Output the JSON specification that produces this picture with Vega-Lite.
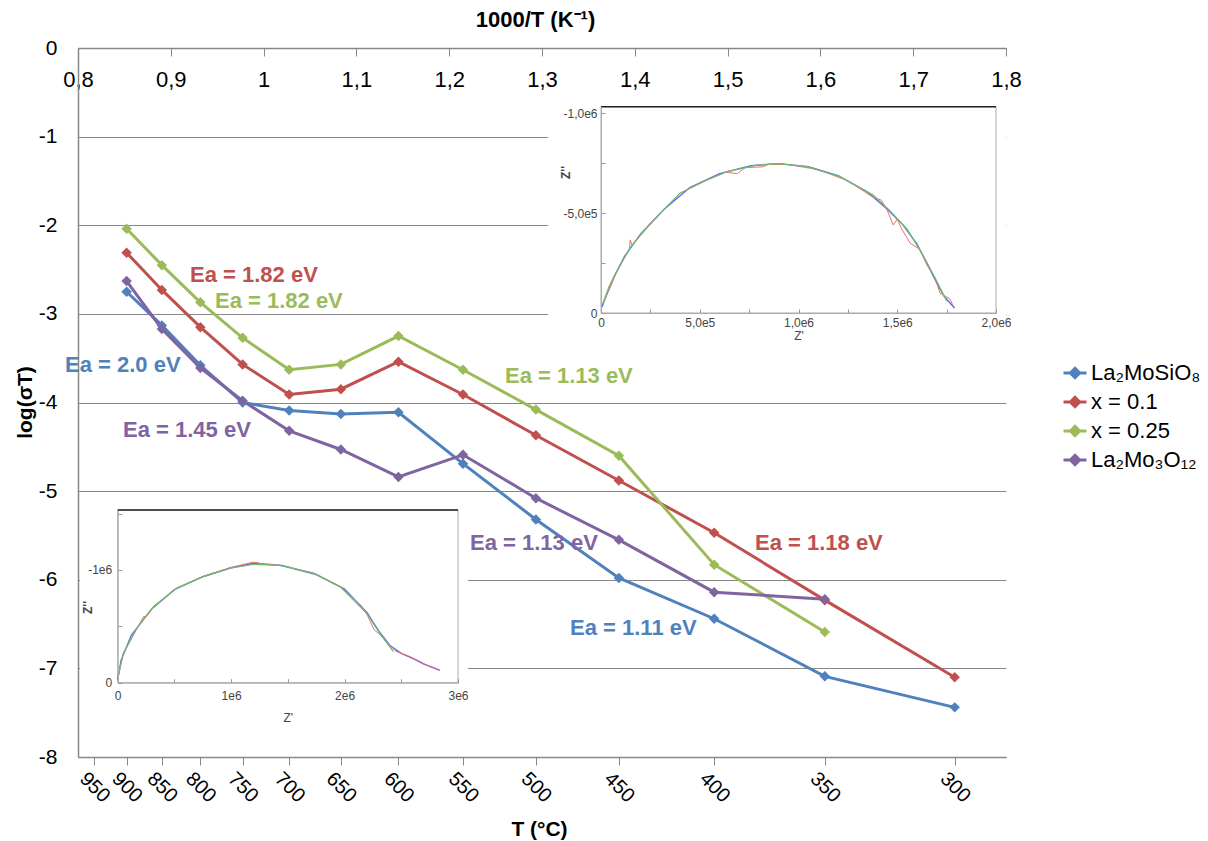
{
  "$schema": "https://vega.github.io/schema/vega-lite/v6.json",
  "width": 928,
  "height": 709,
  "autosize": {"type": "none"},
  "padding": {"left": 78, "top": 48, "right": 202, "bottom": 84},
  "background": "white",
  "config": {
    "font": "Liberation Sans",
    "view": {"stroke": null},
    "axis": {"labelOverlap": false, "labelFlush": false, "labelBound": false}
  },
  "datasets": {
    "main": [
      {"series": "La₂MoSiO₈", "T": 900, "invT": 0.852406, "logST": -2.75},
      {"series": "La₂MoSiO₈", "T": 850, "invT": 0.890353, "logST": -3.13},
      {"series": "La₂MoSiO₈", "T": 800, "invT": 0.931836, "logST": -3.58},
      {"series": "La₂MoSiO₈", "T": 750, "invT": 0.977374, "logST": -4.0},
      {"series": "La₂MoSiO₈", "T": 700, "invT": 1.027591, "logST": -4.09},
      {"series": "La₂MoSiO₈", "T": 650, "invT": 1.083248, "logST": -4.13},
      {"series": "La₂MoSiO₈", "T": 600, "invT": 1.145279, "logST": -4.11},
      {"series": "La₂MoSiO₈", "T": 550, "invT": 1.214846, "logST": -4.69},
      {"series": "La₂MoSiO₈", "T": 500, "invT": 1.29341, "logST": -5.32},
      {"series": "La₂MoSiO₈", "T": 450, "invT": 1.382839, "logST": -5.98},
      {"series": "La₂MoSiO₈", "T": 400, "invT": 1.485553, "logST": -6.44},
      {"series": "La₂MoSiO₈", "T": 350, "invT": 1.60475, "logST": -7.09},
      {"series": "La₂MoSiO₈", "T": 300, "invT": 1.744744, "logST": -7.44},
      {"series": "x = 0.1", "T": 900, "invT": 0.852406, "logST": -2.31},
      {"series": "x = 0.1", "T": 850, "invT": 0.890353, "logST": -2.73},
      {"series": "x = 0.1", "T": 800, "invT": 0.931836, "logST": -3.15},
      {"series": "x = 0.1", "T": 750, "invT": 0.977374, "logST": -3.57},
      {"series": "x = 0.1", "T": 700, "invT": 1.027591, "logST": -3.91},
      {"series": "x = 0.1", "T": 650, "invT": 1.083248, "logST": -3.85},
      {"series": "x = 0.1", "T": 600, "invT": 1.145279, "logST": -3.54},
      {"series": "x = 0.1", "T": 550, "invT": 1.214846, "logST": -3.91},
      {"series": "x = 0.1", "T": 500, "invT": 1.29341, "logST": -4.37},
      {"series": "x = 0.1", "T": 450, "invT": 1.382839, "logST": -4.88},
      {"series": "x = 0.1", "T": 400, "invT": 1.485553, "logST": -5.47},
      {"series": "x = 0.1", "T": 350, "invT": 1.60475, "logST": -6.23},
      {"series": "x = 0.1", "T": 300, "invT": 1.744744, "logST": -7.1},
      {"series": "x = 0.25", "T": 900, "invT": 0.852406, "logST": -2.04},
      {"series": "x = 0.25", "T": 850, "invT": 0.890353, "logST": -2.45},
      {"series": "x = 0.25", "T": 800, "invT": 0.931836, "logST": -2.87},
      {"series": "x = 0.25", "T": 750, "invT": 0.977374, "logST": -3.27},
      {"series": "x = 0.25", "T": 700, "invT": 1.027591, "logST": -3.63},
      {"series": "x = 0.25", "T": 650, "invT": 1.083248, "logST": -3.57},
      {"series": "x = 0.25", "T": 600, "invT": 1.145279, "logST": -3.25},
      {"series": "x = 0.25", "T": 550, "invT": 1.214846, "logST": -3.63},
      {"series": "x = 0.25", "T": 500, "invT": 1.29341, "logST": -4.08},
      {"series": "x = 0.25", "T": 450, "invT": 1.382839, "logST": -4.6},
      {"series": "x = 0.25", "T": 400, "invT": 1.485553, "logST": -5.83},
      {"series": "x = 0.25", "T": 350, "invT": 1.60475, "logST": -6.59},
      {"series": "La₂Mo₃O₁₂", "T": 900, "invT": 0.852406, "logST": -2.63},
      {"series": "La₂Mo₃O₁₂", "T": 850, "invT": 0.890353, "logST": -3.17},
      {"series": "La₂Mo₃O₁₂", "T": 800, "invT": 0.931836, "logST": -3.61},
      {"series": "La₂Mo₃O₁₂", "T": 750, "invT": 0.977374, "logST": -3.98},
      {"series": "La₂Mo₃O₁₂", "T": 700, "invT": 1.027591, "logST": -4.32},
      {"series": "La₂Mo₃O₁₂", "T": 650, "invT": 1.083248, "logST": -4.53},
      {"series": "La₂Mo₃O₁₂", "T": 600, "invT": 1.145279, "logST": -4.84},
      {"series": "La₂Mo₃O₁₂", "T": 550, "invT": 1.214846, "logST": -4.59},
      {"series": "La₂Mo₃O₁₂", "T": 500, "invT": 1.29341, "logST": -5.08},
      {"series": "La₂Mo₃O₁₂", "T": 450, "invT": 1.382839, "logST": -5.55},
      {"series": "La₂Mo₃O₁₂", "T": 400, "invT": 1.485553, "logST": -6.14},
      {"series": "La₂Mo₃O₁₂", "T": 350, "invT": 1.60475, "logST": -6.22}
    ],
    "notes": [
      {"label": "Ea = 1.82 eV", "series": "x = 0.1", "nx": 0.9207, "ny": -2.641},
      {"label": "Ea = 1.82 eV", "series": "x = 0.25", "nx": 0.9476, "ny": -2.935},
      {"label": "Ea = 2.0 eV", "series": "La₂MoSiO₈", "nx": 0.786, "ny": -3.657},
      {"label": "Ea = 1.45 eV", "series": "La₂Mo₃O₁₂", "nx": 0.8485, "ny": -4.391},
      {"label": "Ea = 1.13 eV", "series": "x = 0.25", "nx": 1.2601, "ny": -3.781},
      {"label": "Ea = 1.13 eV", "series": "La₂Mo₃O₁₂", "nx": 1.2224, "ny": -5.666},
      {"label": "Ea = 1.18 eV", "series": "x = 0.1", "nx": 1.5295, "ny": -5.666},
      {"label": "Ea = 1.11 eV", "series": "La₂MoSiO₈", "nx": 1.3302, "ny": -6.625}
    ],
    "inset1": [
      {"s": "pts", "zr": 5000, "zi": -30000},
      {"s": "pts", "zr": 20000, "zi": -70000},
      {"s": "pts", "zr": 60000, "zi": -170000},
      {"s": "pts", "zr": 120000, "zi": -285000},
      {"s": "pts", "zr": 200000, "zi": -395000},
      {"s": "pts", "zr": 320000, "zi": -520000},
      {"s": "pts", "zr": 450000, "zi": -628000},
      {"s": "pts", "zr": 600000, "zi": -698000},
      {"s": "pts", "zr": 760000, "zi": -738000},
      {"s": "pts", "zr": 900000, "zi": -748000},
      {"s": "pts", "zr": 1050000, "zi": -732000},
      {"s": "pts", "zr": 1200000, "zi": -688000},
      {"s": "pts", "zr": 1350000, "zi": -605000},
      {"s": "pts", "zr": 1450000, "zi": -520000},
      {"s": "pts", "zr": 1530000, "zi": -440000},
      {"s": "pts", "zr": 1600000, "zi": -345000},
      {"s": "pts", "zr": 1650000, "zi": -250000},
      {"s": "pts", "zr": 1700000, "zi": -150000},
      {"s": "pts", "zr": 1740000, "zi": -80000},
      {"s": "pts", "zr": 1790000, "zi": -25000},
      {"s": "data", "zr": 10000, "zi": -46000},
      {"s": "data", "zr": 80000, "zi": -205000},
      {"s": "data", "zr": 145000, "zi": -325000},
      {"s": "data", "zr": 148000, "zi": -366000},
      {"s": "data", "zr": 158000, "zi": -340000},
      {"s": "data", "zr": 250000, "zi": -445000},
      {"s": "data", "zr": 400000, "zi": -600000},
      {"s": "data", "zr": 530000, "zi": -662000},
      {"s": "data", "zr": 630000, "zi": -705000},
      {"s": "data", "zr": 690000, "zi": -698000},
      {"s": "data", "zr": 730000, "zi": -728000},
      {"s": "data", "zr": 820000, "zi": -732000},
      {"s": "data", "zr": 850000, "zi": -745000},
      {"s": "data", "zr": 950000, "zi": -743000},
      {"s": "data", "zr": 1100000, "zi": -718000},
      {"s": "data", "zr": 1250000, "zi": -662000},
      {"s": "data", "zr": 1380000, "zi": -578000},
      {"s": "data", "zr": 1420000, "zi": -565000},
      {"s": "data", "zr": 1450000, "zi": -512000},
      {"s": "data", "zr": 1480000, "zi": -440000},
      {"s": "data", "zr": 1500000, "zi": -470000},
      {"s": "data", "zr": 1520000, "zi": -425000},
      {"s": "data", "zr": 1565000, "zi": -350000},
      {"s": "data", "zr": 1615000, "zi": -318000},
      {"s": "data", "zr": 1650000, "zi": -240000},
      {"s": "data", "zr": 1690000, "zi": -180000},
      {"s": "data", "zr": 1716000, "zi": -100000},
      {"s": "data", "zr": 1730000, "zi": -92000},
      {"s": "data", "zr": 1767000, "zi": -70000},
      {"s": "data", "zr": 1785000, "zi": -32000},
      {"s": "fit", "zr": 10000, "zi": -50000},
      {"s": "fit", "zr": 40000, "zi": -130000},
      {"s": "fit", "zr": 80000, "zi": -210000},
      {"s": "fit", "zr": 150000, "zi": -330000},
      {"s": "fit", "zr": 250000, "zi": -450000},
      {"s": "fit", "zr": 400000, "zi": -600000},
      {"s": "fit", "zr": 530000, "zi": -665000},
      {"s": "fit", "zr": 640000, "zi": -708000},
      {"s": "fit", "zr": 790000, "zi": -740000},
      {"s": "fit", "zr": 900000, "zi": -748000},
      {"s": "fit", "zr": 1040000, "zi": -733000},
      {"s": "fit", "zr": 1210000, "zi": -683000},
      {"s": "fit", "zr": 1380000, "zi": -590000},
      {"s": "fit", "zr": 1460000, "zi": -515000},
      {"s": "fit", "zr": 1550000, "zi": -420000},
      {"s": "fit", "zr": 1630000, "zi": -290000},
      {"s": "fit", "zr": 1700000, "zi": -160000},
      {"s": "fit", "zr": 1750000, "zi": -60000}
    ],
    "inset2": [
      {"s": "pts", "zr": 0, "zi": -30000},
      {"s": "pts", "zr": 30000, "zi": -200000},
      {"s": "pts", "zr": 120000, "zi": -420000},
      {"s": "pts", "zr": 300000, "zi": -655000},
      {"s": "pts", "zr": 500000, "zi": -825000},
      {"s": "pts", "zr": 750000, "zi": -940000},
      {"s": "pts", "zr": 1000000, "zi": -1020000},
      {"s": "pts", "zr": 1200000, "zi": -1060000},
      {"s": "pts", "zr": 1450000, "zi": -1040000},
      {"s": "pts", "zr": 1750000, "zi": -960000},
      {"s": "pts", "zr": 2000000, "zi": -830000},
      {"s": "pts", "zr": 2200000, "zi": -620000},
      {"s": "pts", "zr": 2300000, "zi": -460000},
      {"s": "pts", "zr": 2400000, "zi": -330000},
      {"s": "pts", "zr": 2500000, "zi": -260000},
      {"s": "pts", "zr": 2600000, "zi": -215000},
      {"s": "pts", "zr": 2700000, "zi": -165000},
      {"s": "pts", "zr": 2840000, "zi": -110000},
      {"s": "data", "zr": 3000, "zi": -45000},
      {"s": "data", "zr": 49000, "zi": -255000},
      {"s": "data", "zr": 170000, "zi": -480000},
      {"s": "data", "zr": 230000, "zi": -590000},
      {"s": "data", "zr": 250000, "zi": -580000},
      {"s": "data", "zr": 314000, "zi": -670000},
      {"s": "data", "zr": 520000, "zi": -840000},
      {"s": "data", "zr": 755000, "zi": -945000},
      {"s": "data", "zr": 990000, "zi": -1020000},
      {"s": "data", "zr": 1196000, "zi": -1070000},
      {"s": "data", "zr": 1300000, "zi": -1050000},
      {"s": "data", "zr": 1431000, "zi": -1040000},
      {"s": "data", "zr": 1725000, "zi": -975000},
      {"s": "data", "zr": 1960000, "zi": -855000},
      {"s": "data", "zr": 2150000, "zi": -680000},
      {"s": "data", "zr": 2200000, "zi": -600000},
      {"s": "data", "zr": 2260000, "zi": -470000},
      {"s": "data", "zr": 2320000, "zi": -420000},
      {"s": "data", "zr": 2380000, "zi": -350000},
      {"s": "data", "zr": 2450000, "zi": -280000},
      {"s": "data", "zr": 2578000, "zi": -231000},
      {"s": "data", "zr": 2650000, "zi": -195000},
      {"s": "data", "zr": 2725000, "zi": -157000},
      {"s": "data", "zr": 2840000, "zi": -113000},
      {"s": "fit", "zr": 3000, "zi": -53000},
      {"s": "fit", "zr": 49000, "zi": -261000},
      {"s": "fit", "zr": 168000, "zi": -483000},
      {"s": "fit", "zr": 314000, "zi": -674000},
      {"s": "fit", "zr": 520000, "zi": -838000},
      {"s": "fit", "zr": 755000, "zi": -941000},
      {"s": "fit", "zr": 990000, "zi": -1015000},
      {"s": "fit", "zr": 1196000, "zi": -1050000},
      {"s": "fit", "zr": 1431000, "zi": -1040000},
      {"s": "fit", "zr": 1725000, "zi": -970000},
      {"s": "fit", "zr": 1960000, "zi": -852000},
      {"s": "fit", "zr": 2195000, "zi": -616000},
      {"s": "fit", "zr": 2310000, "zi": -438000},
      {"s": "fit", "zr": 2430000, "zi": -275000}
    ]
  },
  "layer": [
    {
      "data": {"name": "main"},
      "mark": {"type": "point", "opacity": 0},
      "encoding": {
        "x": {
          "field": "invT", "type": "quantitative",
          "scale": {"domain": [0.8, 1.8], "nice": false, "zero": false},
          "axis": {
            "orient": "bottom", "offset": -709,
            "values": [0.8, 0.9, 1, 1.1, 1.2, 1.3, 1.4, 1.5, 1.6, 1.7, 1.8],
            "labelExpr": "datum.value == 1 ? '1' : replace(format(datum.value, '.1f'), '.', ',')",
            "labelFontSize": 22, "labelColor": "#000", "labelPadding": 13,
            "tickSize": 8, "tickColor": "#888", "domainColor": "#888", "domainWidth": 1.5,
            "grid": false,
            "title": "1000/T (K⁻¹)", "titleFontSize": 22, "titleFontWeight": "bold", "titleColor": "#000",
            "titleX": 457, "titleY": -22, "titleBaseline": "alphabetic", "titleAlign": "center", "titleAngle": 0
          }
        }
      }
    },
    {
      "data": {"name": "main"},
      "layer": [
        {
          "mark": {"type": "line", "strokeWidth": 3},
          "encoding": {
            "x": {
              "field": "invT", "type": "quantitative",
              "scale": {"domain": [0.8, 1.8], "nice": false, "zero": false},
              "axis": {
                "orient": "bottom",
                "values": [0.817561, 0.852406, 0.890353, 0.931836, 0.977374, 1.027591, 1.083248, 1.145279, 1.214846, 1.29341, 1.382839, 1.485553, 1.60475, 1.744744],
                "labelExpr": "toString(round((1000 / datum.value - 273.15) / 50) * 50)",
                "labelAngle": 45, "labelAlign": "center", "labelBaseline": "middle",
                "labelFontSize": 20, "labelColor": "#000", "labelPadding": 22,
                "tickSize": 8, "tickColor": "#888", "domainColor": "#888", "domainWidth": 1.5,
                "grid": false,
                "title": "T (°C)", "titleFontSize": 21, "titleFontWeight": "bold", "titleColor": "#000",
                "titleX": 461, "titleY": 78, "titleAlign": "center", "titleBaseline": "alphabetic"
              }
            },
            "y": {
              "field": "logST", "type": "quantitative",
              "scale": {"domain": [-8, 0], "nice": false, "zero": false},
              "axis": {
                "orient": "left",
                "values": [-8, -7, -6, -5, -4, -3, -2, -1, 0],
                "labelExpr": "toString(datum.value)",
                "labelFontSize": 21, "labelColor": "#000", "labelPadding": 21,
                "ticks": false, "domainColor": "#888", "domainWidth": 1.5,
                "grid": true, "gridColor": "#888", "gridWidth": 1.2,
                "title": "log(σT)", "titleFontSize": 21, "titleFontWeight": "bold", "titleColor": "#000",
                "titleX": -47, "titleY": 354, "titleAngle": -90, "titleAlign": "center", "titleBaseline": "alphabetic"
              }
            },
            "color": {
              "field": "series", "type": "nominal",
              "scale": {
                "domain": ["La₂MoSiO₈", "x = 0.1", "x = 0.25", "La₂Mo₃O₁₂"],
                "range": ["#4F81BD", "#C0504D", "#9BBB59", "#8064A2"]
              },
              "legend": {
                "orient": "none", "legendX": 984, "legendY": 312,
                "title": null, "padding": 0,
                "labelFontSize": 22, "labelColor": "#000", "labelFont": "Liberation Sans",
                "symbolType": "M-1,0H1M0,-0.4L0.4,0L0,0.4L-0.4,0Z",
                "symbolSize": 529, "symbolStrokeWidth": 3, "symbolOpacity": 1,
                "rowPadding": 5, "labelOffset": 3,
                "encode": {
                  "symbols": {
                    "update": {
                      "fill": {"scale": "color", "field": "value"},
                      "stroke": {"scale": "color", "field": "value"}
                    }
                  }
                }
              }
            }
          }
        },
        {
          "mark": {"type": "point", "shape": "diamond", "filled": true, "size": 110, "opacity": 1},
          "encoding": {
            "x": {"field": "invT", "type": "quantitative"},
            "y": {"field": "logST", "type": "quantitative"},
            "color": {"field": "series", "type": "nominal"}
          }
        },
        {
          "data": {"name": "notes"},
          "mark": {"type": "text", "fontSize": 22, "fontWeight": "bold", "align": "left", "baseline": "alphabetic"},
          "encoding": {
            "x": {"field": "nx", "type": "quantitative"},
            "y": {"field": "ny", "type": "quantitative"},
            "text": {"field": "label"},
            "color": {"field": "series", "type": "nominal"}
          }
        }
      ]
    },
    {
      "data": {"name": "inset1"},
      "layer": [
        {
          "data": {"values": [{}]},
          "mark": {"type": "rect", "fill": "white", "strokeWidth": 0},
          "encoding": {
            "x": {
              "datum": -268000, "type": "quantitative",
              "scale": {"domain": [0, 2000000], "range": [523, 918], "nice": false, "zero": false},
              "axis": {
                "orient": "bottom", "offset": -444, "zindex": 1,
                "values": [0, 250000, 500000, 750000, 1000000, 1250000, 1500000, 1750000, 2000000],
                "labelExpr": "datum.value == 0 ? '0' : datum.value == 500000 ? '5,0e5' : datum.value == 1000000 ? '1,0e6' : datum.value == 1500000 ? '1,5e6' : datum.value == 2000000 ? '2,0e6' : ''",
                "labelFontSize": 12, "labelColor": "#444", "labelPadding": 8,
                "tickSize": -4, "tickColor": "#999", "domainColor": "#aaa", "domainWidth": 1,
                "grid": false,
                "title": "Z'", "titleFontSize": 12, "titleFontWeight": "normal", "titleColor": "#444",
                "titleY": 22, "titleBaseline": "middle"
              }
            },
            "x2": {"datum": 2051000},
            "y": {
              "datum": -1077000, "type": "quantitative",
              "scale": {"domain": [-1033000, 0], "range": [58.7, 265], "nice": false, "zero": false},
              "axis": {
                "orient": "left", "offset": -523, "zindex": 1,
                "values": [0, -250000, -500000, -750000, -1000000],
                "labelExpr": "datum.value == 0 ? '0' : datum.value == -500000 ? '-5,0e5' : datum.value == -1000000 ? '-1,0e6' : ''",
                "labelFontSize": 12, "labelColor": "#444", "labelPadding": 8,
                "tickSize": -4, "tickColor": "#999", "domainColor": "#aaa", "domainWidth": 1,
                "grid": false,
                "title": "Z''", "titleFontSize": 12, "titleFontWeight": "bold", "titleColor": "#444",
                "titleX": -36, "titleY": 124, "titleAngle": -90, "titleAlign": "center", "titleBaseline": "middle"
              }
            },
            "y2": {"datum": 185000}
          }
        },
        {
          "data": {"values": [{}]},
          "mark": {"type": "rect", "fillOpacity": 0, "stroke": "#aaa", "strokeWidth": 1},
          "encoding": {
            "x": {"datum": 0, "type": "quantitative"},
            "x2": {"datum": 2000000},
            "y": {"datum": -1033000, "type": "quantitative"},
            "y2": {"datum": 0}
          }
        },
        {
          "data": {"values": [{}]},
          "mark": {"type": "rule", "stroke": "#222", "strokeWidth": 1.5},
          "encoding": {
            "x": {"datum": 0, "type": "quantitative"},
            "x2": {"datum": 2000000},
            "y": {"datum": -1033000, "type": "quantitative"}
          }
        },
        {
          "transform": [{"filter": "datum.s == 'pts'"}],
          "mark": {"type": "line", "stroke": "#3344ee", "strokeWidth": 1.4, "opacity": 0.8},
          "encoding": {
            "x": {"field": "zr", "type": "quantitative"},
            "y": {"field": "zi", "type": "quantitative"}
          }
        },
        {
          "transform": [{"filter": "datum.s == 'data'"}],
          "mark": {"type": "line", "stroke": "#f07070", "strokeWidth": 1},
          "encoding": {
            "x": {"field": "zr", "type": "quantitative"},
            "y": {"field": "zi", "type": "quantitative"}
          }
        },
        {
          "transform": [{"filter": "datum.s == 'fit'"}],
          "mark": {"type": "line", "stroke": "#6cbf6c", "strokeWidth": 1.2},
          "encoding": {
            "x": {"field": "zr", "type": "quantitative"},
            "y": {"field": "zi", "type": "quantitative"}
          }
        }
      ]
    },
    {
      "data": {"name": "inset2"},
      "layer": [
        {
          "data": {"values": [{}]},
          "mark": {"type": "rect", "fill": "white", "strokeWidth": 0},
          "encoding": {
            "x": {
              "datum": -332000, "type": "quantitative",
              "scale": {"domain": [0, 3000000], "range": [39.7, 380], "nice": false, "zero": false},
              "axis": {
                "orient": "bottom", "offset": -74.3, "zindex": 1,
                "values": [0, 500000, 1000000, 1500000, 2000000, 2500000, 3000000],
                "labelExpr": "datum.value == 0 ? '0' : datum.value == 1000000 ? '1e6' : datum.value == 2000000 ? '2e6' : datum.value == 3000000 ? '3e6' : ''",
                "labelFontSize": 12, "labelColor": "#444", "labelPadding": 12,
                "tickSize": -4, "tickColor": "#999", "domainColor": "#aaa", "domainWidth": 1,
                "grid": false,
                "title": "Z'", "titleFontSize": 12, "titleFontWeight": "normal", "titleColor": "#444",
                "titleY": 35, "titleBaseline": "middle"
              }
            },
            "x2": {"datum": 3088000},
            "y": {
              "datum": -1621000, "type": "quantitative",
              "scale": {"domain": [-1532000, 0], "range": [462, 634.7], "nice": false, "zero": false},
              "axis": {
                "orient": "left", "offset": -39.7, "zindex": 1,
                "values": [0, -500000, -1000000, -1500000],
                "labelExpr": "datum.value == 0 ? '0' : datum.value == -1000000 ? '-1e6' : ''",
                "labelFontSize": 12, "labelColor": "#444", "labelPadding": 10,
                "tickSize": -4, "tickColor": "#999", "domainColor": "#aaa", "domainWidth": 1,
                "grid": false,
                "title": "Z''", "titleFontSize": 12, "titleFontWeight": "bold", "titleColor": "#444",
                "titleX": -30, "titleY": 559, "titleAngle": -90, "titleAlign": "center", "titleBaseline": "middle"
              }
            },
            "y2": {"datum": 490000}
          }
        },
        {
          "data": {"values": [{}]},
          "mark": {"type": "rect", "fillOpacity": 0, "stroke": "#aaa", "strokeWidth": 1},
          "encoding": {
            "x": {"datum": 0, "type": "quantitative"},
            "x2": {"datum": 3000000},
            "y": {"datum": -1532000, "type": "quantitative"},
            "y2": {"datum": 0}
          }
        },
        {
          "data": {"values": [{}]},
          "mark": {"type": "rule", "stroke": "#222", "strokeWidth": 1.5},
          "encoding": {
            "x": {"datum": 0, "type": "quantitative"},
            "x2": {"datum": 3000000},
            "y": {"datum": -1532000, "type": "quantitative"}
          }
        },
        {
          "transform": [{"filter": "datum.s == 'pts'"}],
          "mark": {"type": "line", "stroke": "#3344ee", "strokeWidth": 1.4, "opacity": 0.8},
          "encoding": {
            "x": {"field": "zr", "type": "quantitative"},
            "y": {"field": "zi", "type": "quantitative"}
          }
        },
        {
          "transform": [{"filter": "datum.s == 'data'"}],
          "mark": {"type": "line", "stroke": "#f07070", "strokeWidth": 1},
          "encoding": {
            "x": {"field": "zr", "type": "quantitative"},
            "y": {"field": "zi", "type": "quantitative"}
          }
        },
        {
          "transform": [{"filter": "datum.s == 'fit'"}],
          "mark": {"type": "line", "stroke": "#6cbf6c", "strokeWidth": 1.2},
          "encoding": {
            "x": {"field": "zr", "type": "quantitative"},
            "y": {"field": "zi", "type": "quantitative"}
          }
        }
      ]
    }
  ],
  "resolve": {
    "scale": {"x": "independent", "y": "independent"},
    "axis": {"x": "independent", "y": "independent"}
  }
}
